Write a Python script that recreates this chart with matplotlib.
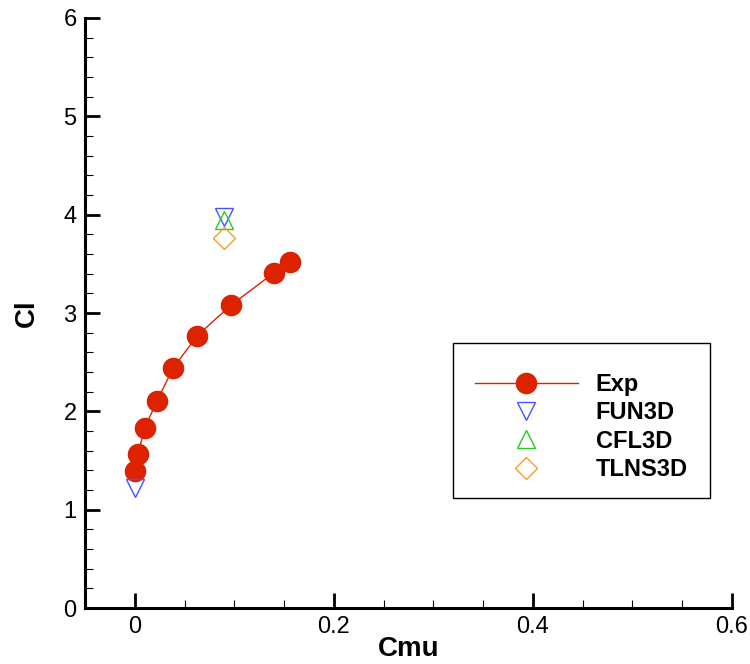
import matplotlib
matplotlib.use("Agg")
from matplotlib import pyplot as plt
from matplotlib.patches import Rectangle
from matplotlib.ticker import MultipleLocator

plt.rcParams['font.family'] = ['Liberation Sans', 'DejaVu Sans']

# experimental data
exp_cmu = [0.0, 0.0033, 0.0101, 0.0225, 0.0386, 0.0628, 0.0968, 0.140, 0.156]
exp_cl = [1.39, 1.57, 1.83, 2.11, 2.44, 2.77, 3.08, 3.41, 3.52]

# computations
fun3d_cmu = [0.0, 0.0897]
fun3d_cl = [1.22, 3.98]
cfl3d_cmu = [0.0897]
cfl3d_cl = [3.95]
tlns3d_cmu = [0.0897]
tlns3d_cl = [3.76]

fig = plt.figure(figsize=(7.5, 6.64), dpi=100)
ax = fig.add_axes([0.1133, 0.0843, 0.8627, 0.8886])

ax.plot(exp_cmu, exp_cl, '-o', color='#dd2200', lw=1.0, ms=14.5,
        mec='#dd2200', label='Exp', zorder=3)
ax.plot(fun3d_cmu, fun3d_cl, 'v', color='#4455ff', mfc='none', ms=13,
        mew=1.0, ls='none', label='FUN3D', zorder=4)
ax.plot(cfl3d_cmu, cfl3d_cl, '^', color='#22cc22', mfc='none', ms=13,
        mew=1.0, ls='none', label='CFL3D', zorder=4)
ax.plot(tlns3d_cmu, tlns3d_cl, 'D', color='#ff9922', mfc='none', ms=11,
        mew=1.0, ls='none', label='TLNS3D', zorder=4)

ax.set_xlim(-0.05, 0.6)
ax.set_ylim(0, 6)
ax.xaxis.set_major_locator(MultipleLocator(0.2))
ax.xaxis.set_minor_locator(MultipleLocator(0.05))
ax.yaxis.set_major_locator(MultipleLocator(1))
ax.yaxis.set_minor_locator(MultipleLocator(0.2))
ax.set_xticks([0, 0.2, 0.4, 0.6])
ax.set_xticklabels(['0', '0.2', '0.4', '0.6'])

for s in ['top', 'right']:
    ax.spines[s].set_visible(False)
for s in ['left', 'bottom']:
    ax.spines[s].set_linewidth(2.2)

ax.tick_params(which='major', direction='in', length=11, width=2.0,
               labelsize=17, pad=6)
ax.tick_params(which='minor', direction='in', length=6, width=0.8)
ax.tick_params(top=False, right=False, which='both')

ax.set_xlabel('Cmu', fontsize=20, fontweight='bold', labelpad=-2)
ax.set_ylabel('Cl', fontsize=20, fontweight='bold', labelpad=17)

# legend frame drawn separately (tecplot-like box with uneven padding)
ax.add_patch(Rectangle((0.569, 0.186), 0.397, 0.263, transform=ax.transAxes,
                       fill=False, edgecolor='black', lw=1.0, zorder=5,
                       clip_on=False))
leg = ax.legend(loc='upper left', bbox_to_anchor=(0.603, 0.398),
                prop={'weight': 'bold', 'size': 17}, frameon=False,
                handlelength=4.35, handletextpad=0.76, borderpad=0,
                labelspacing=0.22, borderaxespad=0)

fig.savefig('out.png', dpi=100)
